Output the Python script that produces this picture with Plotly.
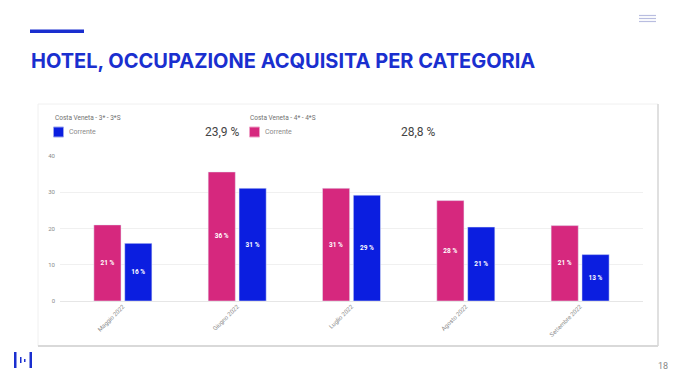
import plotly.graph_objects as go

W, H = 680, 383

months = ["Maggio 2022", "Giugno 2022", "Luglio 2022", "Agosto 2022", "Settembre 2022"]
occ_4s = [21.0, 35.6, 31.1, 27.7, 20.8]   # Costa Veneta - 4* - 4*S (pink)
occ_3s = [15.9, 31.1, 29.2, 20.4, 12.8]   # Costa Veneta - 3* - 3*S (blue)
label_4s = ["21 %", "36 %", "31 %", "28 %", "21 %"]
label_3s = ["16 %", "31 %", "29 %", "21 %", "13 %"]
y_ticks = [0, 10, 20, 30, 40]
name_3s = "Costa Veneta - 3* - 3*S"
name_4s = "Costa Veneta - 4* - 4*S"
total_3s = "23,9 %"
total_4s = "28,8 %"
series_label = "Corrente"
title = "HOTEL, OCCUPAZIONE ACQUISITA PER CATEGORIA"
page = "18"

PINK = "#d6287e"
BLUE = "#0b1ee0"
TBLUE = "#1a2fcf"


def px(x):
    return x / W


def py(y):
    return 1 - y / H


fig = go.Figure()
fig.add_trace(go.Bar(x=months, y=occ_4s, name=name_4s, marker_color=PINK,
                     text=label_4s, textposition="inside", insidetextanchor="middle",
                     textfont=dict(color="white", size=6.5, family="Roboto", weight=700),
                     cliponaxis=False))
fig.add_trace(go.Bar(x=months, y=occ_3s, name=name_3s, marker_color=BLUE,
                     text=label_3s, textposition="inside", insidetextanchor="middle",
                     textfont=dict(color="white", size=6.5, family="Roboto", weight=700),
                     cliponaxis=False))

shapes = []
# card
shapes.append(dict(type="rect", xref="paper", yref="paper", x0=px(38), x1=px(658), y0=py(346), y1=py(104),
                   line=dict(color="#f0f0f0", width=1), fillcolor="white", layer="below"))
shapes.append(dict(type="line", xref="paper", yref="paper", x0=px(38), x1=px(658), y0=py(346), y1=py(346),
                   line=dict(color="#cfcfcf", width=1.5)))
shapes.append(dict(type="line", xref="paper", yref="paper", x0=px(658), x1=px(658), y0=py(346), y1=py(104),
                   line=dict(color="#d8d8d8", width=1.5)))
# accent line
shapes.append(dict(type="rect", xref="paper", yref="paper", x0=px(30), x1=px(84), y0=py(33), y1=py(29.5),
                   line=dict(width=0), fillcolor=TBLUE))
# hamburger
for yy in (15.5, 18.5, 21.5):
    shapes.append(dict(type="line", xref="paper", yref="paper", x0=px(639), x1=px(656), y0=py(yy), y1=py(yy),
                       line=dict(color="#b9bde0", width=1.2)))
# logo
for (x0, x1, y0, y1) in [(14, 16.5, 352, 368), (29.5, 32, 352, 368), (20, 21.5, 357, 363), (24, 25.5, 359, 362)]:
    shapes.append(dict(type="rect", xref="paper", yref="paper", x0=px(x0), x1=px(x1), y0=py(y1), y1=py(y0),
                       line=dict(width=0), fillcolor=TBLUE, layer="above"))
# legend swatches
shapes.append(dict(type="rect", xref="paper", yref="paper", x0=px(53.5), x1=px(63.5), y0=py(137), y1=py(127),
                   line=dict(color="#9aa3ee", width=1), fillcolor=BLUE))
shapes.append(dict(type="rect", xref="paper", yref="paper", x0=px(249.5), x1=px(259.5), y0=py(137), y1=py(127),
                   line=dict(color="#eea0c6", width=1), fillcolor=PINK))

ann = []
ann.append(dict(text=title, x=px(29), y=py(61), xref="paper", yref="paper", xanchor="left", yanchor="middle",
                showarrow=False, font=dict(family="Inter", size=20, color=TBLUE, weight=700)))
ann.append(dict(text=name_3s, x=px(53), y=py(118), xref="paper", yref="paper", xanchor="left", yanchor="middle",
                showarrow=False, font=dict(family="Roboto", size=6.5, color="#707070")))
ann.append(dict(text=name_4s, x=px(248), y=py(118), xref="paper", yref="paper", xanchor="left", yanchor="middle",
                showarrow=False, font=dict(family="Roboto", size=6.5, color="#707070")))
ann.append(dict(text=series_label, x=px(67), y=py(132), xref="paper", yref="paper", xanchor="left", yanchor="middle",
                showarrow=False, font=dict(family="Roboto", size=7, color="#8a8a8a")))
ann.append(dict(text=series_label, x=px(263), y=py(132), xref="paper", yref="paper", xanchor="left", yanchor="middle",
                showarrow=False, font=dict(family="Roboto", size=7, color="#8a8a8a")))
ann.append(dict(text=total_3s, x=px(242), y=py(132), xref="paper", yref="paper", xanchor="right", yanchor="middle",
                showarrow=False, font=dict(family="Roboto", size=12, color="#444444")))
ann.append(dict(text=total_4s, x=px(438), y=py(132), xref="paper", yref="paper", xanchor="right", yanchor="middle",
                showarrow=False, font=dict(family="Roboto", size=12, color="#444444")))
ann.append(dict(text=page, x=px(670), y=py(366), xref="paper", yref="paper", xanchor="right", yanchor="middle",
                showarrow=False, font=dict(family="Roboto", size=9, color="#888888")))

fig.update_layout(
    width=W, height=H,
    margin=dict(l=0, r=0, t=0, b=0),
    paper_bgcolor="white", plot_bgcolor="white",
    showlegend=False,
    barmode="group", bargap=0.46, bargroupgap=0.12,
    shapes=shapes, annotations=ann,
    xaxis=dict(domain=[px(60), px(643)], range=[-0.55, 4.55], tickangle=-45,
               tickfont=dict(family="Roboto", size=6, color="#8a8a8a"), showgrid=False,
               showline=False, ticks="", automargin=False),
    yaxis=dict(domain=[py(301), py(156)], range=[0, 40], tickvals=y_ticks,
               tickfont=dict(family="Roboto", size=6, color="#8a8a8a"), gridcolor="#f0f0f0",
               zeroline=True, zerolinecolor="#e6e6e6", zerolinewidth=1, showline=False,
               ticks="", ticklabelstandoff=4, automargin=False),
    font=dict(family="Roboto"),
)

fig.write_html("out.html", config={"displayModeBar": False},
               post_script="document.body.style.margin='0';document.body.style.overflow='hidden';")
